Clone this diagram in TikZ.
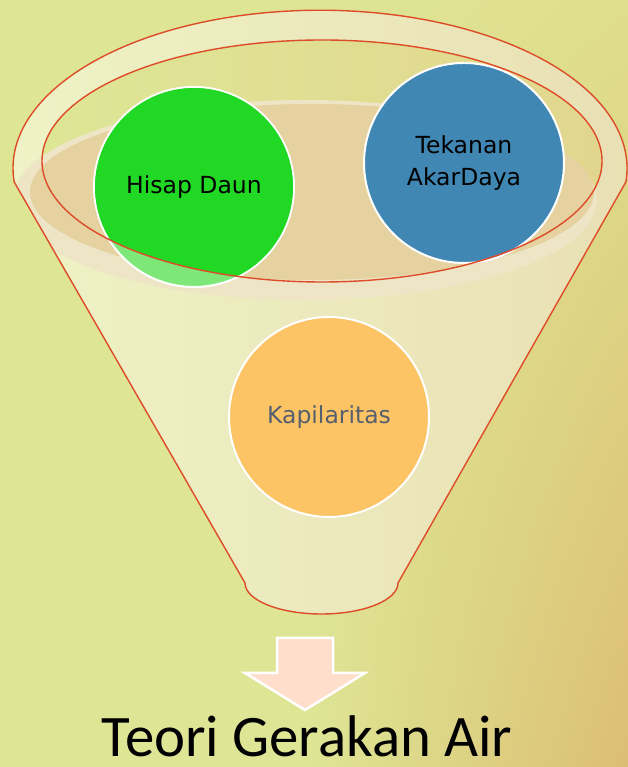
\documentclass[tikz,border=0pt]{standalone}
\usepackage{fontspec}
\setmainfont{Carlito}
\newfontfamily\bubblefont{DejaVu Sans}
\usetikzlibrary{positioning,shadings}
\definecolor{bgleft}{RGB}{222,230,150}
\definecolor{bgtopright}{RGB}{223,222,142}
\definecolor{bgright}{RGB}{220,190,114}
\definecolor{innerright}{RGB}{226,214,142}
\definecolor{funnelleft}{RGB}{238,243,198}
\definecolor{funnelright}{RGB}{233,224,180}
\definecolor{rim}{RGB}{222,75,40}
\definecolor{liquid}{RGB}{229,210,160}
\definecolor{halo}{RGB}{238,229,198}
\definecolor{leafgreen}{RGB}{33,217,36}
\definecolor{leaflight}{RGB}{125,232,120}
\definecolor{rootblue}{RGB}{65,135,180}
\definecolor{caporange}{RGB}{252,196,100}
\definecolor{capgray}{RGB}{85,95,110}
\definecolor{arrowpink}{RGB}{255,222,204}

\begin{document}
\begin{tikzpicture}[x=1pt,y=1pt,
  bubble/.style={circle,minimum size=200pt,inner sep=0pt,draw=white,line width=2pt,
    align=center,font=\bubblefont\fontsize{23.5}{32}\selectfont}]

% background
\useasboundingbox (0,0) rectangle (628,767);
\fill[bgleft] (0,0) rectangle (301,767);
\shade[upper left=bgleft,lower left=bgleft,upper right=bgtopright,lower right=bgright]
  (300,0) rectangle (628,767);

% funnel body
\path[left color=funnelleft,right color=funnelright]
  (14.2,585) arc[start angle=185,end angle=-5,x radius=307,y radius=158]
  -- (398,184) arc[start angle=0,end angle=-180,x radius=76.5,y radius=31] -- cycle;
\begin{scope}
  \clip (14.2,585) arc[start angle=185,end angle=-5,x radius=307,y radius=158]
    -- (398,184) arc[start angle=0,end angle=-180,x radius=76.5,y radius=31] -- cycle;
  \path[left color=bgleft,right color=innerright] (322,606) ellipse[x radius=280,y radius=121];
  \fill[halo] (305,567) ellipse[x radius=292,y radius=100];
  \fill[liquid] (312,575) ellipse[x radius=282,y radius=88];
\end{scope}

% bubbles
\node[bubble,fill=leaflight] (hisap) at (194,580) {};
\begin{scope}
  \clip (322,606) ellipse[x radius=280,y radius=121];
  \fill[leafgreen] (hisap.center) circle[radius=99];
\end{scope}
\node[font=\bubblefont\fontsize{23.5}{32}\selectfont] (hisaptext) at (hisap.center) {Hisap Daun};
\node[bubble,fill=rootblue] (tekanan) at (464,604) {Tekanan\\AkarDaya};
\node[bubble,fill=caporange,text=capgray] (kapilaritas) at (329,350) {Kapilaritas};

% funnel outline
\draw[rim,line width=1.4pt]
  (14.2,585) arc[start angle=185,end angle=-5,x radius=307,y radius=158]
  -- (398,184) arc[start angle=0,end angle=-180,x radius=76.5,y radius=31] -- cycle;
\draw[rim,line width=1.4pt] (322,606) ellipse[x radius=280,y radius=121];

% arrow and title
\draw[white,line width=2.5pt,fill=arrowpink,line join=miter]
  (277,129) -- (333,129) -- (333,94) -- (365,94) -- (305,57) -- (245,94) -- (277,94) -- cycle;
\node[anchor=base,font=\fontsize{58.8}{60}\selectfont,inner sep=0pt] (judul) at (307,10) {Teori Gerakan Air};

\end{tikzpicture}
\end{document}
